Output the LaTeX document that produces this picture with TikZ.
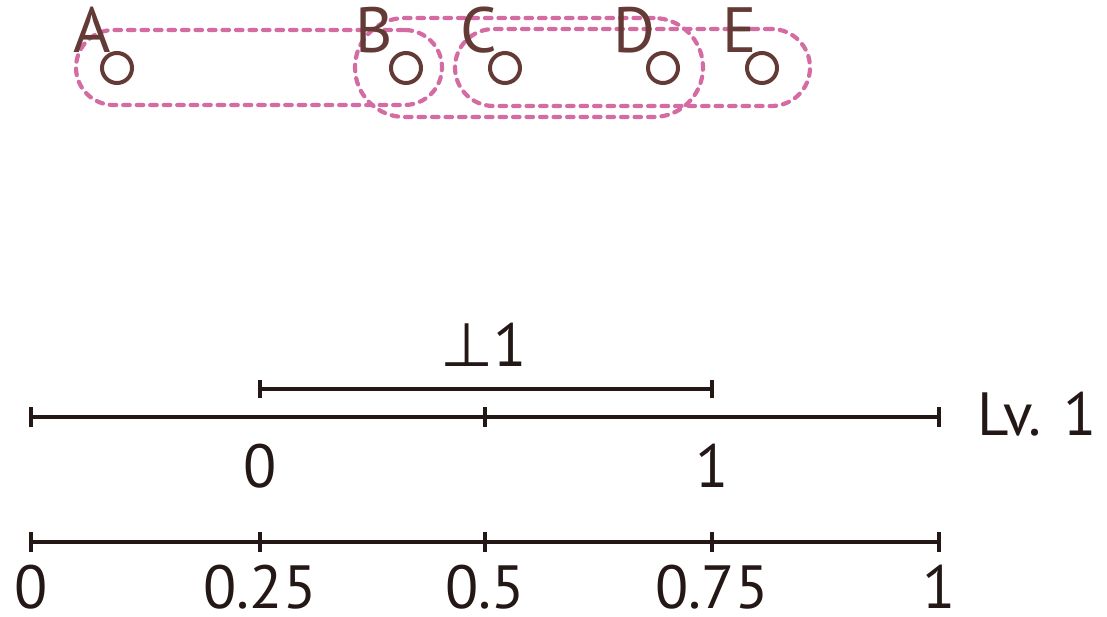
\documentclass[tikz,border=0pt]{standalone}
\usepackage{fontspec}
\setmainfont{PT Sans}
\newfontfamily\symfont{DejaVu Sans}
\definecolor{pinkd}{HTML}{D56BA3}
\definecolor{brownd}{HTML}{633A35}
\definecolor{inkd}{HTML}{231815}
\tikzset{
  grp/.style={draw=pinkd, line width=4.2pt, dash pattern=on 6.5pt off 7pt, line cap=round, inner sep=0pt},
  pt/.style={circle, draw=brownd, line width=4pt, minimum size=30pt, inner sep=0pt},
  lbl/.style={text=brownd, inner sep=0pt, font=\fontsize{64}{64}\selectfont},
  num/.style={text=inkd, inner sep=0pt, font=\fontsize{61}{61}\selectfont},
  axis/.style={draw=inkd, line width=3.4pt},
  tick/.style={draw=inkd, line width=3.4pt},
}
\begin{document}
\begin{tikzpicture}[x=1pt,y=-1pt]
\useasboundingbox (0,0) rectangle (1107,616);
% groups (stadiums)
\node[grp, minimum width=366pt, minimum height=75pt, rounded corners=37.5pt] (g1) at (259,67.5) {};
\node[grp, minimum width=348pt, minimum height=99pt, rounded corners=49.5pt] (g2) at (529,67.5) {};
\node[grp, minimum width=355pt, minimum height=77pt, rounded corners=38.5pt] (g3) at (632.5,67.5) {};
% labels
\node[lbl] (lA) at (92,30) {A};
\node[lbl] (lB) at (374,30) {B};
\node[lbl] (lC) at (479,30) {C};
\node[lbl] (lD) at (634,30) {D};
\node[lbl] (lE) at (740,30) {E};
% points
\node[pt] (A) at (117,68) {};
\node[pt] (B) at (406,68) {};
\node[pt] (C) at (505,68) {};
\node[pt] (D) at (663,68) {};
\node[pt] (E) at (762,68) {};
% top segment
\coordinate (s0) at (260,389);
\coordinate (s1) at (712,389);
\draw[axis] (s0) -- (s1);
\draw[tick] ([yshift=-9pt]s0) -- ([yshift=9pt]s0);
\draw[tick] ([yshift=-9pt]s1) -- ([yshift=9pt]s1);
\node[num] (perp) at (484,345) {{\symfont\fontsize{61}{61}\selectfont ⊥}1};
% level 1 line
\coordinate (m0) at (31,417);
\coordinate (m1) at (485,417);
\coordinate (m2) at (939,417);
\draw[axis] (m0) -- (m2);
\foreach \c in {m0,m1,m2} \draw[tick] ([yshift=-10pt]\c) -- ([yshift=10pt]\c);
\node[num] (lv) at (1037,414) {Lv. 1};
\node[num] (z0) at (260,466) {0};
\node[num] (z1) at (712,466) {1};
% bottom scale
\coordinate (b0) at (31,542);
\coordinate (b1) at (260,542);
\coordinate (b2) at (485,542);
\coordinate (b3) at (712,542);
\coordinate (b4) at (939,542);
\draw[axis] (b0) -- (b4);
\foreach \c in {b0,b1,b2,b3,b4} \draw[tick] ([yshift=-10pt]\c) -- ([yshift=10pt]\c);
\node[num] (t0) at (31,587) {0};
\node[num] (t1) at (260,587) {0.25};
\node[num] (t2) at (485,587) {0.5};
\node[num] (t3) at (712,587) {0.75};
\node[num] (t4) at (939,587) {1};
\end{tikzpicture}
\end{document}
